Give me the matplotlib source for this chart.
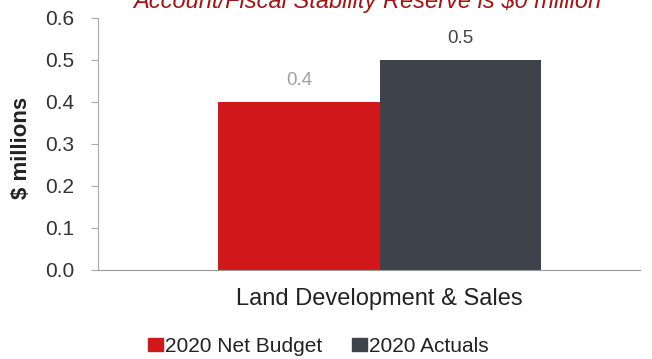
import matplotlib.pyplot as plt
import numpy as np

plt.rcParams['font.family'] = ['Liberation Sans', 'DejaVu Sans']

category = 'Land Development & Sales'
series = ['2020 Net Budget', '2020 Actuals']
values = [0.4, 0.5]
colors = ['#d0181b', '#3e424a']
label_colors = ['#a0a0a0', '#444444']
yticks = [0.0, 0.1, 0.2, 0.3, 0.4, 0.5, 0.6]

fig = plt.figure(figsize=(6.52, 3.59), dpi=100)
ax = fig.add_axes([0.150, 0.248, 0.832, 0.702])

w = 0.3
offsets = np.array([-w / 2, w / 2])
bars = ax.bar(offsets, values, width=w, color=colors, edgecolor='none')
for b, v, c in zip(bars, values, label_colors):
    ax.text(b.get_x() + b.get_width() / 2, v + 0.052, f'{v:.1f}',
            ha='center', va='center', fontsize=13.5, color=c)

ax.set_xlim(-0.524, 0.485)
ax.set_ylim(0, 0.6)
ax.set_yticks(yticks)
ax.set_yticklabels([f'{t:.1f}' for t in yticks])
ax.set_xticks([0])
ax.set_xticklabels([category])
ax.tick_params(axis='x', length=0, pad=13, labelsize=17, labelcolor='#222222')
ax.tick_params(axis='y', length=5, color='#aaaaaa', labelsize=15,
               labelcolor='#333333', pad=12)
for s in ['top', 'right']:
    ax.spines[s].set_visible(False)
ax.spines['left'].set_color('#aaaaaa')
ax.spines['bottom'].set_color('#999999')

fig.text(0.033, 0.589, '$ millions', rotation=90, ha='center', va='center',
         fontsize=16, fontweight='bold', color='#222222')

# heading runs off the top edge of the figure
fig.text(0.564, 0.978, 'Account/Fiscal Stability Reserve is $0 million',
         ha='center', va='baseline', fontsize=17, color='#a31515',
         style='italic')

handles = [plt.Rectangle((0, 0), 1, 1, color=c) for c in colors]
fig.legend(handles, series, loc='center', bbox_to_anchor=(0.488, 0.035), ncol=2,
           frameon=False, fontsize=15, handlelength=0.72, handleheight=0.58,
           handletextpad=0.1, columnspacing=1.4, borderpad=0,
           labelcolor='#222222')

fig.savefig('out.png', dpi=100)
